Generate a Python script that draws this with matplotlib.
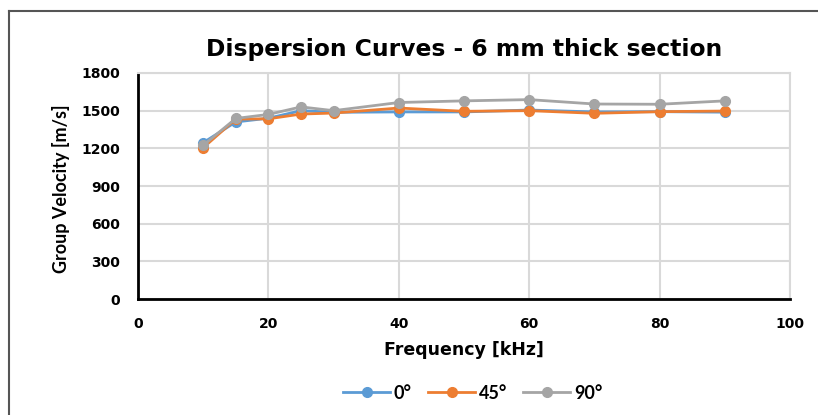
import matplotlib
matplotlib.use("Agg")
import matplotlib.pyplot as plt
from matplotlib.lines import Line2D

freq = [10, 15, 20, 25, 30, 40, 50, 60, 70, 80, 90]
v0 = [1245, 1410, 1440, 1500, 1487, 1490, 1490, 1505, 1490, 1492, 1488]
v45 = [1205, 1433, 1435, 1473, 1481, 1521, 1495, 1500, 1479, 1492, 1497]
v90 = [1224, 1438, 1470, 1530, 1500, 1565, 1578, 1588, 1553, 1551, 1578]
series = [("0°", v0, "#5B9BD5"), ("45°", v45, "#ED7D31"), ("90°", v90, "#A5A5A5")]

title = "Dispersion Curves - 6 mm thick section"
xlabel = "Frequency [kHz]"
ylabel = "Group Velocity [m/s]"
xticks = [0, 20, 40, 60, 80, 100]
yticks = [0, 300, 600, 900, 1200, 1500, 1800]

fig = plt.figure(figsize=(8.18, 4.15), dpi=100)
ax = fig.add_axes([0.1687, 0.2795, 0.7971, 0.5446])

for name, vals, col in series:
    ax.plot(freq, vals, color=col, lw=2, marker="o", ms=7, label=name, zorder=3)

ax.set_xlim(0, 100)
ax.set_ylim(0, 1800)
ax.set_xticks(xticks)
ax.set_yticks(yticks)
ax.grid(True, color="#d9d9d9", lw=1.5, zorder=0)
ax.set_axisbelow(True)
for s in ["top", "right"]:
    ax.spines[s].set_color("#d9d9d9")
    ax.spines[s].set_linewidth(1.5)
for s in ["left", "bottom"]:
    ax.spines[s].set_color("black")
    ax.spines[s].set_linewidth(2)
ax.tick_params(length=0, labelsize=10, pad=13)
for lab in ax.get_xticklabels() + ax.get_yticklabels():
    lab.set_fontweight("bold")
    lab.set_family("DejaVu Sans")

ax.set_xlabel(xlabel, fontsize=12.5, fontweight="bold", labelpad=7)
ax.set_ylabel(ylabel, fontsize=13, fontweight="bold", family="Lato")
ax.yaxis.set_label_coords(-0.104, 0.49)
ax.set_title(title, fontsize=16.8, fontweight="bold", pad=12)

handles = [Line2D([0], [0], color=c, lw=2, marker="o", ms=7) for _, _, c in series]
fig.legend(handles, [n for n, _, _ in series], loc="center", bbox_to_anchor=(0.578, 0.053),
           ncol=3, frameon=False, prop={"family": "Lato", "weight": "bold", "size": 13},
           handlelength=2.6, handletextpad=0.2, columnspacing=0.9)

# outer frame (left and top edges)
fig.add_artist(Line2D([9 / 818, 9 / 818], [0, 1 - 11 / 415], transform=fig.transFigure,
                      color="#555555", lw=1.5))
fig.add_artist(Line2D([9 / 818, 1], [1 - 11 / 415, 1 - 11 / 415], transform=fig.transFigure,
                      color="#555555", lw=1.5))

fig.savefig("out.png", dpi=100)
